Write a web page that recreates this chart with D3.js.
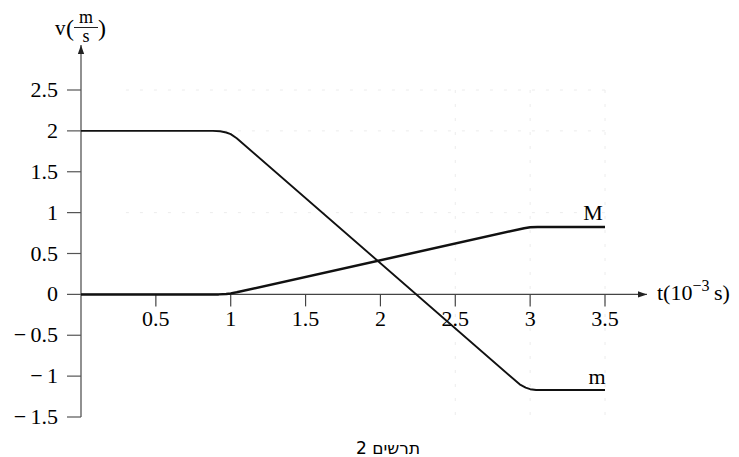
<!DOCTYPE html>
<html>
<head>
<meta charset="utf-8">
<script src="https://cdn.jsdelivr.net/npm/d3@7"></script>
<style>
body{margin:0;background:#fff}
</style>
</head>
<body>
<script>
// values (t in 10^-3 s, v in m/s)
let xTicks=[0.5,1,1.5,2,2.5,3,3.5]
let yTicks=[-1.5,-1,-0.5,0,0.5,1,1.5,2,2.5]
let mT=[0,0.88,0.93,0.97,1.0,1.04,2.93,2.97,3.0,3.04,3.1,3.5]
let mV=[2,2,1.995,1.98,1.96,1.91,-1.1,-1.14,-1.16,-1.17,-1.17,-1.17]
let MT=[0,0.92,0.97,1.0,1.04,2.96,3.0,3.05,3.5]
let MV=[0,0,0.004,0.012,0.025,0.81,0.82,0.825,0.825]
let curveNames=['m','M']

var serif='"Liberation Serif","DejaVu Serif",serif'
var W=739,H=457
var svg=d3.select('body').append('svg').attr('width',W).attr('height',H)
  .style('font-family',serif)

var x=d3.scaleLinear().domain([0,3.5]).range([81,605])
var y=d3.scaleLinear().domain([-1.5,2.5]).range([417,90])

var defs=svg.append('defs')
defs.append('marker').attr('id','arr').attr('viewBox','0 0 10 10').attr('refX',10).attr('refY',5)
  .attr('markerWidth',9).attr('markerHeight',9).attr('markerUnits','userSpaceOnUse').attr('orient','auto')
  .append('path').attr('d','M0,1.5L10,5L0,8.5z').attr('fill','#222')

// very faint dotted grid (barely visible in the scan)
var grid=svg.append('g').attr('stroke','#ececec').attr('stroke-width',1).attr('stroke-dasharray','3,11')
grid.selectAll('.gy').data([2.5,2,1]).enter().append('line')
  .attr('x1',x(0.3)).attr('x2',x(3.5)).attr('y1',d=>y(d)).attr('y2',d=>y(d))
grid.selectAll('.gx').data([2.5,3,3.5]).enter().append('line')
  .attr('x1',d=>x(d)).attr('x2',d=>x(d)).attr('y1',y(2.5)).attr('y2',y(-1.5))

// x axis with arrow
svg.append('line').attr('x1',x(0)).attr('x2',647).attr('y1',y(0)).attr('y2',y(0))
  .attr('stroke','#444').attr('stroke-width',1.3).attr('marker-end','url(#arr)')
svg.selectAll('.xt').data(xTicks).enter().append('line')
  .attr('x1',d=>x(d)).attr('x2',d=>x(d)).attr('y1',y(0)).attr('y2',y(0)+12)
  .attr('stroke','#444').attr('stroke-width',1.2)
svg.selectAll('.xl').data(xTicks).enter().append('text')
  .attr('x',d=>x(d)).attr('y',y(0)+32).attr('text-anchor','middle').attr('font-size',22)
  .text(d=>d)

// y axis with arrow
svg.append('line').attr('x1',x(0)).attr('x2',x(0)).attr('y1',y(-1.5)).attr('y2',45)
  .attr('stroke','#555').attr('stroke-width',1.3).attr('marker-end','url(#arr)')
svg.selectAll('.yt').data(yTicks).enter().append('line')
  .attr('x1',67).attr('x2',x(0)).attr('y1',d=>y(d)).attr('y2',d=>y(d))
  .attr('stroke','#555').attr('stroke-width',1.2)
svg.selectAll('.yl').data(yTicks).enter().append('text')
  .attr('x',58).attr('y',d=>y(d)+7).attr('text-anchor','end').attr('font-size',22)
  .text(d=>d<0?'\u2212\u2009'+Math.abs(d):d)

// curves
var line=d3.line().x(d=>x(d[0])).y(d=>y(d[1]))
var series=[d3.zip(mT,mV),d3.zip(MT,MV)]
svg.selectAll('.curve').data(series).enter().append('path')
  .attr('d',d=>line(d)).attr('fill','none').attr('stroke','#111')
  .attr('stroke-linejoin','round')
  .attr('stroke-width',(d,i)=>i==0?1.9:2.5)

svg.append('text').attr('x',597).attr('y',384).attr('text-anchor','middle').attr('font-size',22).text(curveNames[0])
svg.append('text').attr('x',593).attr('y',220).attr('text-anchor','middle').attr('font-size',22).text(curveNames[1])

// axis titles
var tl=svg.append('text').attr('x',657).attr('y',300).attr('font-size',22)
tl.append('tspan').text('t(10')
tl.append('tspan').attr('dy',-9).attr('font-size',16).text('\u22123')
tl.append('tspan').attr('dy',9).text('\u2009s)')

svg.append('text').attr('x',55).attr('y',35).attr('font-size',21).text('v')
svg.append('text').attr('x',66).attr('y',36).attr('font-size',24).text('(')
svg.append('text').attr('x',86).attr('y',23).attr('font-size',18).attr('text-anchor','middle').text('m')
svg.append('line').attr('x1',74).attr('x2',98).attr('y1',27.5).attr('y2',27.5).attr('stroke','#222').attr('stroke-width',1)
svg.append('text').attr('x',86).attr('y',42).attr('font-size',18).attr('text-anchor','middle').text('s')
svg.append('text').attr('x',98).attr('y',36).attr('font-size',24).text(')')

// caption
svg.append('text').attr('x',388).attr('y',454).attr('text-anchor','middle').attr('font-size',17)
  .style('font-family','"DejaVu Sans","Noto Sans",sans-serif').attr('direction','rtl').text('תרשים 2')
</script>
</body>
</html>
